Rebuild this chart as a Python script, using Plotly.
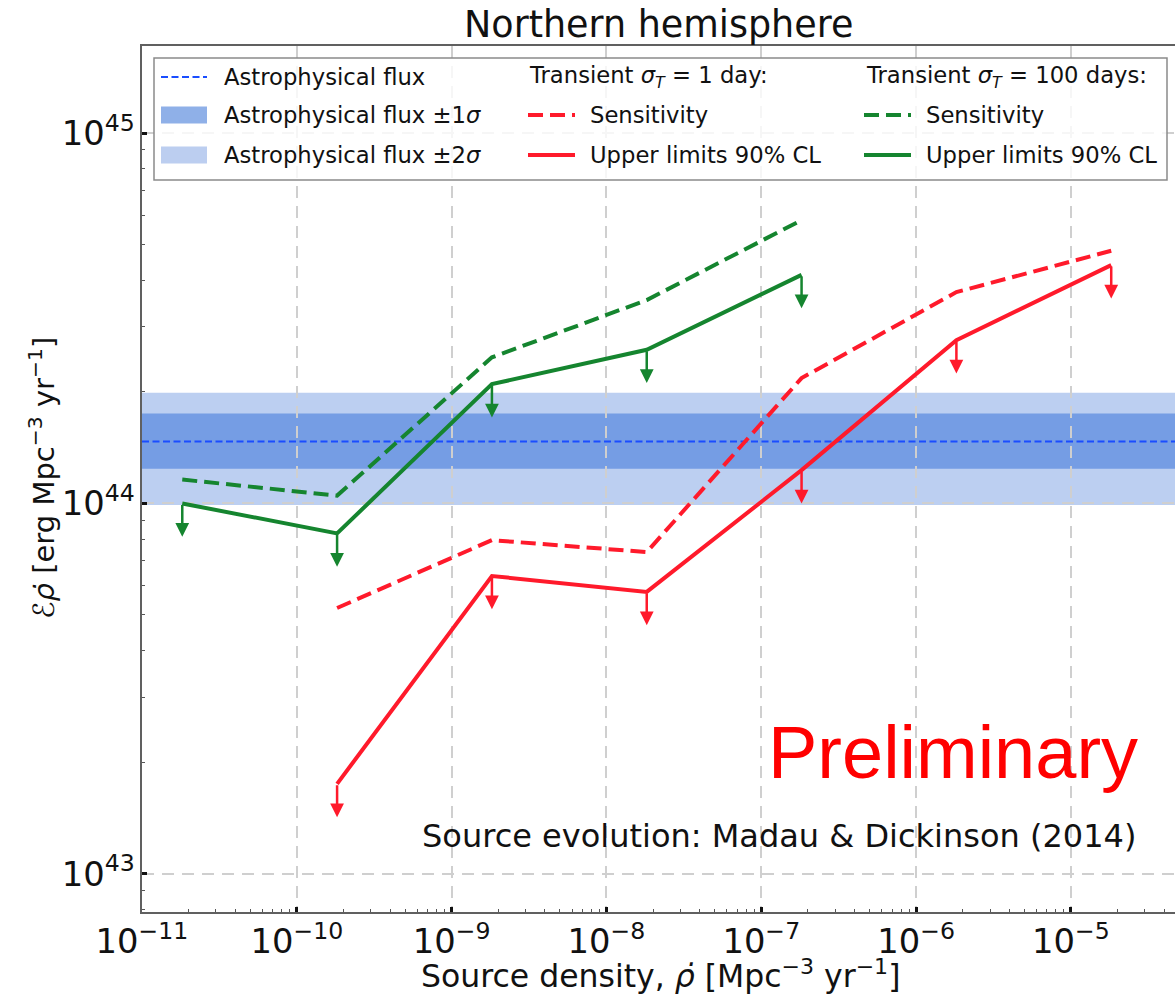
import numpy as np
import plotly.graph_objects as go

# ---------------- data ----------------
x_green = [1.82e-11, 1.82e-10, 1.82e-9, 1.82e-8, 1.82e-7]
sens_green = [1.16e44, 1.05e44, 2.48e44, 3.54e44, 5.82e44]
ul_green = [1.00e44, 8.3e43, 2.10e44, 2.60e44, 4.14e44]

x_red = [1.82e-10, 1.82e-9, 1.82e-8, 1.82e-7, 1.82e-6, 1.82e-5]
sens_red = [5.22e43, 7.96e43, 7.39e43, 2.18e44, 3.72e44, 4.81e44]
ul_red = [1.75e43, 6.37e43, 5.77e43, 1.23e44, 2.76e44, 4.40e44]

astro_flux = 1.47e44
astro_1sigma = [1.24e44, 1.75e44]
astro_2sigma = [0.99e44, 1.99e44]

x_range_log = [-11, -4.328]
y_range_log = [42.897, 45.235]

# ---------------- styles ----------------
RED = "#ff1a2b"
GREEN = "#15852f"
BLUE = "#1a4dff"
C1 = "rgb(117,157,228)"
C2 = "rgb(188,207,241)"
C1_LEG = "rgb(143,176,232)"
C2_LEG = "rgb(188,206,240)"
FONT = "DejaVu Sans"
W, H = 1175, 996
L, R, T, B = 142, 0, 46, 84
PW, PH = W - L - R, H - T - B
ARROW_DEC = 0.09

def px(xp):
    return (xp - L) / PW

def py(yp):
    return (H - B - yp) / PH

fig = go.Figure()

# sensitivity and upper limit lines
fig.add_trace(go.Scatter(x=x_green, y=sens_green, mode="lines",
                         line=dict(color=GREEN, width=4, dash="15px,7px"), showlegend=False))
fig.add_trace(go.Scatter(x=x_green, y=ul_green, mode="lines",
                         line=dict(color=GREEN, width=4), showlegend=False))
fig.add_trace(go.Scatter(x=x_red, y=sens_red, mode="lines",
                         line=dict(color=RED, width=4, dash="15px,7px"), showlegend=False))
fig.add_trace(go.Scatter(x=x_red, y=ul_red, mode="lines",
                         line=dict(color=RED, width=4), showlegend=False))

# arrows for upper limits
for xs, ys, col in [(x_green, ul_green, GREEN), (x_red, ul_red, RED)]:
    for xv, yv in zip(xs, ys):
        lx, ly = np.log10(xv), np.log10(yv)
        fig.add_annotation(x=lx, y=ly - ARROW_DEC, ax=lx, ay=ly,
                           xref="x", yref="y", axref="x", ayref="y",
                           text="", showarrow=True, arrowhead=2, arrowsize=1.1,
                           arrowwidth=2.5, arrowcolor=col, standoff=0, startstandoff=0)

# astrophysical bands
fig.add_shape(type="rect", xref="paper", yref="y", x0=0, x1=1,
              y0=astro_2sigma[0], y1=astro_2sigma[1], fillcolor=C2,
              line=dict(width=0), layer="below")
fig.add_shape(type="rect", xref="paper", yref="y", x0=0, x1=1,
              y0=astro_1sigma[0], y1=astro_1sigma[1], fillcolor=C1,
              line=dict(width=0), layer="below")
fig.add_shape(type="line", xref="paper", yref="y", x0=0, x1=1,
              y0=astro_flux, y1=astro_flux,
              line=dict(color=BLUE, width=2, dash="7px,3.5px"), layer="between")

# ---------------- manual legend ----------------
fig.add_shape(type="rect", xref="paper", yref="paper", x0=px(154), x1=px(1167),
              y0=py(180), y1=py(58), fillcolor="rgba(255,255,255,0.8)",
              line=dict(color="#8a8a8a", width=1.5), layer="above")
rows = [77, 115, 155]
LF = dict(family=FONT, size=22.7, color="#111")

def leg_line(x0, x1, yrow, color, dash, width):
    fig.add_shape(type="line", xref="paper", yref="paper", x0=px(x0), x1=px(x1),
                  y0=py(yrow), y1=py(yrow), line=dict(color=color, width=width, dash=dash),
                  layer="above")

def leg_patch(x0, x1, yrow, color):
    fig.add_shape(type="rect", xref="paper", yref="paper", x0=px(x0), x1=px(x1),
                  y0=py(yrow + 8.5), y1=py(yrow - 8.5), fillcolor=color,
                  line=dict(width=0), layer="above")

def leg_text(x0, yrow, text):
    fig.add_annotation(xref="paper", yref="paper", x=px(x0), y=py(yrow), text=text,
                       showarrow=False, xanchor="left", yanchor="middle", font=LF)

leg_line(161, 207, rows[0], BLUE, "7px,3.5px", 2)
leg_text(222, rows[0], "Astrophysical flux")
leg_patch(161, 207, rows[1], C1_LEG)
leg_text(222, rows[1], "Astrophysical flux ±1<i>σ</i>")
leg_patch(161, 207, rows[2], C2_LEG)
leg_text(222, rows[2], "Astrophysical flux ±2<i>σ</i>")

leg_text(527, rows[0], "Transient <i>σ</i><sub><i>T</i></sub> = 1 day:")
leg_line(528, 575, rows[1], RED, "15px,7px", 4)
leg_text(588, rows[1], "Sensitivity")
leg_line(528, 575, rows[2], RED, "solid", 4)
leg_text(588, rows[2], "Upper limits 90% CL")

leg_text(864, rows[0], "Transient <i>σ</i><sub><i>T</i></sub> = 100 days:")
leg_line(864, 911, rows[1], GREEN, "15px,7px", 4)
leg_text(924, rows[1], "Sensitivity")
leg_line(864, 911, rows[2], GREEN, "solid", 4)
leg_text(924, rows[2], "Upper limits 90% CL")

# ---------------- texts ----------------
fig.add_annotation(xref="paper", yref="paper", x=px(1140), y=py(752), text="Preliminary",
                   showarrow=False, xanchor="right", yanchor="middle",
                   font=dict(family="Liberation Sans", size=74, color="#ff0000"))
fig.add_annotation(xref="paper", yref="paper", x=px(1138), y=py(836),
                   text="Source evolution: Madau & Dickinson (2014)",
                   showarrow=False, xanchor="right", yanchor="middle",
                   font=dict(family=FONT, size=32, color="#111"))
fig.add_annotation(xref="paper", yref="paper", x=px(660), y=py(974),
                   text="Source density, <i>ρ̇</i> [Mpc<sup>−3</sup> yr<sup>−1</sup>]",
                   showarrow=False, xanchor="center", yanchor="middle",
                   font=dict(family=FONT, size=31.5, color="#111"))
fig.add_annotation(xref="paper", yref="paper", x=px(42), y=py(478),
                   text="<i>ℰρ̇</i> [erg Mpc<sup>−3</sup> yr<sup>−1</sup>]",
                   showarrow=False, xanchor="center", yanchor="middle", textangle=-90,
                   font=dict(family=FONT, size=29, color="#111"))
fig.add_annotation(xref="paper", yref="paper", x=0.5, y=py(25),
                   text="Northern hemisphere", showarrow=False,
                   xanchor="center", yanchor="middle",
                   font=dict(family=FONT, size=36.5, color="#111"))

axis_common = dict(
    type="log", dtick=1, exponentformat="power", showexponent="all",
    showgrid=True, gridcolor="#cfcfcf", gridwidth=2, griddash="12px,8px",
    showline=True, linecolor="#606060", linewidth=1.5,
    ticks="inside", ticklen=5, tickwidth=2.5, tickcolor="#111",
    tickfont=dict(family=FONT, size=27, color="#111"),
    minor=dict(ticks="inside", ticklen=3, tickwidth=1, tickcolor="#555", showgrid=False),
    zeroline=False,
)
fig.update_xaxes(range=x_range_log, mirror=True, **axis_common)
fig.update_yaxes(range=y_range_log, mirror=False, **axis_common)

fig.update_layout(
    width=W, height=H,
    margin=dict(l=L, r=R, t=T, b=B),
    paper_bgcolor="white", plot_bgcolor="white",
    showlegend=False,
    font=dict(family=FONT),
)

fig.write_html("out.html")
